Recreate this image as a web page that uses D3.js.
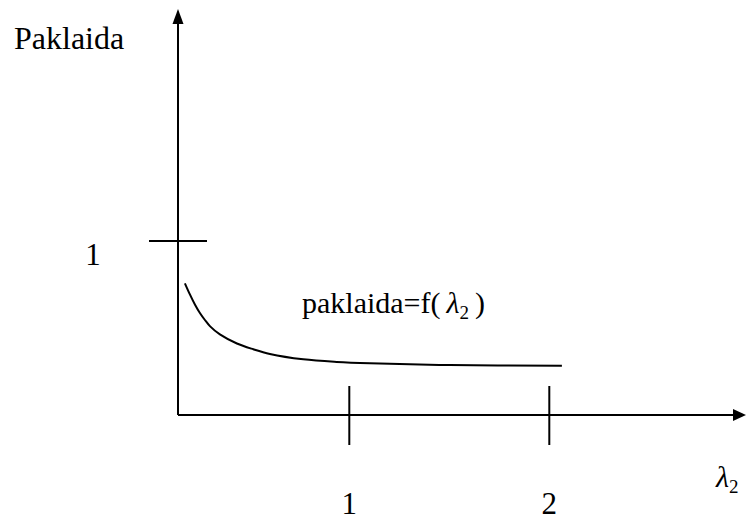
<!DOCTYPE html>
<html><head><meta charset="utf-8">
<script src="https://cdn.jsdelivr.net/npm/d3@7"></script>
<style>body{margin:0;background:#fff}svg{display:block}</style>
</head><body>
<script>
const lambdaValues = [0.178, 0.203, 0.228, 0.253, 0.278, 0.303, 0.353, 0.438, 0.520, 0.603, 0.770, 0.937, 1.103, 1.503, 2.063];
const errorValues  = [0.757, 0.693, 0.635, 0.586, 0.546, 0.511, 0.463, 0.411, 0.378, 0.351, 0.320, 0.305, 0.297, 0.287, 0.283];
const xTicks = [1, 2];
const yTicks = [1];
const xTickLabels = ["1", "2"];
const yTickLabels = ["1"];

const W = 750, H = 521;
const FONT = "'Liberation Serif', 'Times New Roman', Times, 'DejaVu Serif', serif";
const svg = d3.select("body").append("svg").attr("width", W).attr("height", H)
  .attr("font-family", FONT);

const x = d3.scaleLinear().domain([1, 2]).range([349.3, 549.3]);
const y = d3.scaleLinear().domain([0, 1]).range([415, 241]);
const x0 = 178, y0 = 415;

// axes lines
svg.append("line").attr("x1", x0).attr("y1", y0).attr("x2", 736).attr("y2", y0)
  .attr("stroke", "#000").attr("stroke-width", 2);
svg.append("line").attr("x1", x0).attr("y1", y0).attr("x2", x0).attr("y2", 22)
  .attr("stroke", "#000").attr("stroke-width", 2);
// arrowheads
svg.append("path").attr("d", `M746,${y0} L733,${y0-6} L733,${y0+6} Z`).attr("fill", "#000");
svg.append("path").attr("d", `M${x0},9 L${x0-5.5},24 L${x0+5.5},24 Z`).attr("fill", "#000");

// x ticks
svg.selectAll(".xt").data(xTicks).join("line")
  .attr("x1", d => x(d)).attr("x2", d => x(d)).attr("y1", 386).attr("y2", 445)
  .attr("stroke", "#000").attr("stroke-width", 2);
svg.selectAll(".xl").data(xTicks).join("text")
  .attr("font-family", FONT)
  .attr("x", d => x(d)).attr("y", 514).attr("text-anchor", "middle")
  .attr("font-size", 31).text((d, i) => xTickLabels[i]);

// y ticks
svg.selectAll(".yt").data(yTicks).join("line")
  .attr("x1", 149).attr("x2", 207).attr("y1", d => y(d)).attr("y2", d => y(d))
  .attr("stroke", "#000").attr("stroke-width", 2);
svg.selectAll(".yl").data(yTicks).join("text")
  .attr("font-family", FONT)
  .attr("x", 93).attr("y", d => y(d) + 24).attr("text-anchor", "middle")
  .attr("font-size", 31).text((d, i) => yTickLabels[i]);

// curve
const pts = lambdaValues.map((l, i) => [l, errorValues[i]]);
svg.append("path").datum(pts)
  .attr("d", d3.line().x(d => x(d[0])).y(d => y(d[1])).curve(d3.curveCatmullRom.alpha(0.5)))
  .attr("fill", "none").attr("stroke", "#000").attr("stroke-width", 2);

// axis titles
svg.append("text").attr("font-family", FONT).attr("x", 14).attr("y", 49).attr("font-size", 32).text("Paklaida");

const lx = svg.append("text").attr("font-family", FONT).attr("x", 716).attr("y", 487).attr("font-size", 30);
lx.append("tspan").attr("font-style", "italic").text("λ");
lx.append("tspan").attr("font-size", 19).attr("dy", 6).text("2");

const fl = svg.append("text").attr("font-family", FONT).attr("x", 302).attr("y", 313).attr("font-size", 30);
fl.append("tspan").text("paklaida=f(");
fl.append("tspan").attr("dx", 6).attr("font-style", "italic").text("λ");
fl.append("tspan").attr("font-size", 19).attr("dy", 6).text("2");
fl.append("tspan").attr("dx", 6).attr("dy", -6).text(")");
</script>
</body></html>
